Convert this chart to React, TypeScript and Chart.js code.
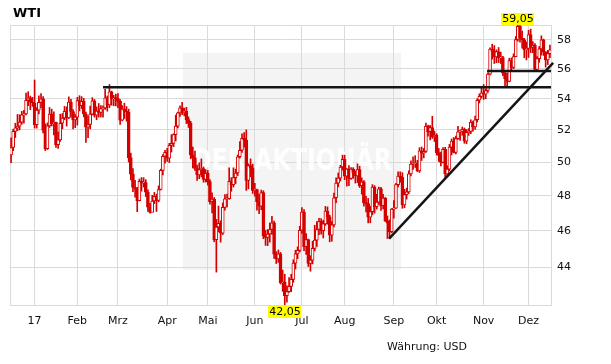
import React, { useEffect, useRef } from 'react';
import { Chart, registerables } from 'chart.js';

Chart.register(...registerables);

const titleText = 'WTI';
const currencyNote = 'Währung: USD';
const watermarkText = 'DER AKTIONÄR';

// month tick labels (first trading day of each month)
const monthLabels = ['17', 'Feb', 'Mrz', 'Apr', 'Mai', 'Jun', 'Jul', 'Aug', 'Sep', 'Okt', 'Nov', 'Dez'];
// trading days: Dec 2016 (partial), Jan..Nov 2017, Dec 2017 (partial)
const tradingDaysPerMonth = [11, 20, 19, 23, 19, 22, 22, 20, 23, 20, 22, 21, 11];

const firstOpen = 50.45;

const closes = [
  // Dec 16
  50.9, 51.9, 52.12, 52.23, 52.49, 52.95, 53.02, 53.9, 54.06, 53.77, 53.72,
  // Jan
  52.33, 53.26, 53.76, 53.99, 51.96, 50.82, 52.25, 53.01, 52.37, 52.48,
  51.08, 51.37, 52.42, 52.75, 53.18, 52.75, 53.78, 53.17, 52.63, 52.81,
  // Feb
  53.88, 53.54, 53.83, 53.01, 52.17, 52.34, 53.0, 53.86, 52.93, 53.2,
  53.11, 53.36, 53.4, 54.06, 53.59, 54.45, 53.99, 54.05, 54.01,
  // Mar
  53.83, 52.61, 53.33, 53.2, 53.14, 50.28, 49.28, 48.49, 48.4, 47.72,
  48.86, 48.75, 48.78, 48.22, 47.34, 47.04, 47.7, 47.97, 47.73, 48.37,
  49.51, 50.35, 50.6,
  // Apr
  50.24, 51.03, 51.15, 51.7, 52.24, 53.08, 53.4, 53.11, 53.18, 52.65,
  52.41, 50.44, 50.27, 49.62, 49.23, 49.56, 49.62, 48.97, 49.33,
  // May
  48.84, 47.66, 47.82, 45.52, 46.22, 46.43, 45.88, 47.33, 47.83, 47.84,
  48.85, 48.66, 49.07, 49.35, 50.33, 50.73, 51.47, 51.36, 48.9, 49.8,
  49.66, 48.32,
  // Jun
  48.36, 47.66, 47.4, 48.19, 45.72, 45.64, 45.83, 46.08, 46.46, 44.73,
  44.46, 44.74, 43.2, 43.23, 42.53, 42.74, 43.01, 43.38, 44.24, 44.74,
  44.93, 46.04,
  // Jul
  47.07, 45.13, 45.52, 44.23, 44.4, 45.04, 45.49, 46.08, 46.54, 46.02,
  46.4, 47.12, 46.79, 45.77, 46.34, 47.89, 48.75, 49.04, 49.71, 50.17,
  // Aug
  49.16, 49.59, 49.03, 49.58, 49.39, 49.17, 49.56, 48.59, 48.82, 47.59,
  47.55, 46.78, 47.09, 48.51, 47.37, 47.64, 48.41, 47.43, 47.87, 46.57,
  46.44, 45.96, 47.23,
  // Sep
  47.29, 48.66, 49.16, 49.09, 47.48, 48.07, 48.23, 49.3, 49.89, 49.89,
  49.91, 49.48, 50.69, 50.55, 50.66, 52.22, 51.88, 52.14, 51.56, 51.67,
  // Oct
  50.58, 50.42, 49.98, 50.79, 49.29, 49.58, 50.92, 51.3, 50.6, 51.45,
  51.87, 51.88, 52.04, 51.29, 51.84, 51.9, 52.47, 52.18, 52.64, 53.9,
  54.15, 54.38,
  // Nov
  54.3, 54.54, 55.64, 57.35, 57.2, 56.81, 57.17, 56.74, 56.76, 55.7,
  55.33, 55.14, 56.55, 56.09, 56.83, 58.02, 58.95, 58.11, 57.99, 57.3,
  57.4,
  // Dec 17
  58.36, 57.47, 57.62, 55.96, 56.69, 57.36, 57.99, 57.14, 56.6, 57.04, 57.3,
];

const highs = [
  51.5, 52.04, 52.42, 52.98, 52.96, 53.18, 53.24, 54.37, 54.46, 54.17, 54.09,
  55.24, 53.42, 54.19, 54.33, 54.14, 52.38, 52.44, 53.43, 53.32, 53.15,
  52.5, 51.87, 53.0, 53.04, 53.5, 53.47, 54.12, 53.96, 53.29, 52.97,
  54.09, 54.2, 54.14, 54.02, 53.13, 52.89, 53.52, 54.07, 53.95, 53.47,
  53.69, 53.55, 53.53, 54.62, 54.18, 54.94, 54.5, 54.22, 54.3,
  54.33, 53.94, 53.55, 53.71, 53.49, 53.32, 50.55, 49.62, 48.91, 48.5,
  48.99, 49.08, 49.07, 48.95, 48.35, 47.57, 48.03, 48.2, 48.1, 48.59,
  49.58, 50.47, 50.72,
  50.85, 51.16, 51.7, 51.76, 52.94, 53.13, 53.53, 53.76, 53.39, 53.44,
  52.82, 52.54, 50.93, 50.68, 49.82, 49.96, 50.2, 49.71, 49.55,
  49.5, 48.96, 48.17, 47.9, 46.65, 47.41, 46.57, 47.59, 48.07, 48.11,
  49.66, 49.07, 49.66, 49.58, 50.44, 51.26, 51.75, 51.83, 52.0, 49.9,
  50.2, 49.88,
  48.73, 48.4, 48.11, 48.34, 48.3, 46.04, 46.08, 46.45, 46.83, 46.55,
  44.86, 44.95, 44.82, 43.87, 43.65, 43.04, 43.47, 43.65, 44.42, 44.94,
  45.12, 46.26,
  47.32, 47.21, 45.85, 45.55, 44.64, 45.43, 46.32, 46.53, 46.71, 46.7,
  46.6, 47.39, 47.36, 46.89, 46.53, 48.16, 49.06, 49.35, 49.81, 50.43,
  50.43, 49.62, 49.79, 49.68, 49.67, 49.48, 49.9, 49.76, 49.06, 48.9,
  47.97, 47.85, 47.39, 48.66, 48.6, 48.09, 48.51, 48.5, 48.09, 47.91,
  46.84, 46.62, 47.27,
  47.73, 48.73, 49.42, 49.42, 49.37, 48.38, 48.46, 49.48, 50.09, 50.33,
  50.4, 50.11, 50.89, 50.93, 50.84, 52.43, 52.3, 52.28, 52.86, 51.92,
  51.76, 50.84, 50.61, 50.89, 50.91, 49.79, 51.09, 51.43, 51.52, 51.61,
  52.23, 51.98, 52.18, 52.12, 52.02, 52.08, 52.64, 52.55, 52.87, 54.0,
  54.32, 54.69,
  54.94, 54.65, 55.72, 57.44, 57.69, 57.59, 57.3, 57.46, 57.13, 56.85,
  55.75, 55.72, 56.72, 56.74, 57.02, 58.23, 59.05, 59.0, 58.62, 58.1,
  57.84,
  58.67, 58.76, 57.87, 57.73, 56.84, 57.53, 58.28, 58.05, 57.18, 57.26, 57.63,
];

const lows = [
  49.97, 50.7, 51.52, 51.95, 52.0, 52.35, 52.43, 52.95, 53.55, 53.29, 53.5,
  52.11, 52.11, 53.02, 53.41, 51.81, 50.71, 50.78, 52.15, 52.24, 51.68,
  50.91, 50.84, 51.28, 52.07, 52.64, 52.24, 52.71, 52.81, 52.06, 52.14,
  52.3, 53.21, 53.36, 52.82, 51.22, 51.51, 52.06, 52.95, 52.81, 52.64,
  52.81, 52.82, 52.8, 53.3, 53.19, 53.42, 53.58, 53.54, 53.53,
  53.41, 52.34, 52.57, 52.72, 52.55, 50.01, 48.93, 48.24, 47.92, 47.09,
  47.71, 48.27, 48.51, 47.96, 47.1, 47.01, 47.24, 47.55, 47.1, 47.65,
  48.34, 49.24, 49.94,
  50.04, 49.97, 50.62, 50.95, 51.31, 52.12, 52.85, 52.96, 52.89, 52.4,
  52.15, 50.21, 49.65, 49.51, 48.91, 49.01, 49.12, 48.8, 48.81,
  48.63, 47.52, 47.02, 45.4, 43.76, 45.95, 45.38, 45.8, 47.17, 47.36,
  47.8, 48.27, 48.52, 48.72, 49.2, 50.24, 50.6, 50.92, 48.32, 48.41,
  49.12, 48.14,
  47.98, 47.18, 46.98, 47.2, 45.57, 45.2, 45.19, 45.38, 45.81, 44.49,
  44.22, 44.28, 43.13, 42.75, 42.05, 42.2, 42.69, 42.73, 43.22, 43.92,
  44.48, 44.84,
  45.86, 44.91, 44.71, 44.06, 43.81, 44.2, 44.9, 45.15, 45.8, 45.82,
  45.61, 46.31, 46.38, 45.4, 45.43, 46.23, 47.6, 48.53, 48.88, 49.52,
  48.95, 48.57, 48.6, 48.96, 49.03, 48.75, 48.78, 48.49, 48.1, 47.4,
  47.08, 46.45, 46.46, 46.91, 47.0, 47.24, 47.5, 47.16, 47.25, 46.53,
  45.58, 45.58, 45.9,
  46.72, 47.27, 48.52, 48.8, 47.28, 47.31, 47.81, 48.13, 49.17, 49.57,
  49.68, 49.43, 49.38, 50.1, 50.26, 50.6, 51.6, 51.37, 51.46, 51.27,
  50.44, 50.05, 49.78, 49.96, 49.1, 49.15, 49.48, 50.44, 50.56, 50.5,
  51.4, 51.34, 51.66, 51.16, 51.13, 51.65, 51.76, 51.92, 52.03, 52.49,
  53.72, 54.04,
  53.95, 54.0, 54.41, 55.59, 56.66, 56.36, 56.41, 56.42, 56.36, 55.53,
  54.83, 54.81, 55.12, 55.85, 56.0, 56.83, 57.9, 57.84, 57.41, 56.75,
  56.6,
  56.77, 57.11, 57.1, 55.82, 55.86, 56.44, 56.93, 56.91, 56.11, 56.28, 56.76,
];

const yTickValues = [44, 46, 48, 50, 52, 54, 56, 58];

// drawn trend lines (x = trading-day index, y = price)
const resistanceLevel = 54.75;
const resistanceFrom = 43;
const supportLevel = 55.85;
const supportFrom = 222.6;
const trendStart = { x: 176.8, y: 45.58 };
const trendEnd = { x: 253.5, y: 56.4 };

const RED = '#d40000';
const GRID = '#dadada';
const FONT = '"DejaVu Sans", Verdana, sans-serif';

export default function App() {
  const canvasRef = useRef<HTMLCanvasElement>(null);

  useEffect(() => {
    const canvas = canvasRef.current;
    if (!canvas) return;
    const n = closes.length;
    const opens = closes.map((c, i) => (i === 0 ? firstOpen : closes[i - 1]));
    const wicks = closes.map((_, i) => ({ x: i, y: [lows[i], highs[i]] }));
    const bodies = closes.map((c, i) => ({ x: i, y: [opens[i], c] }));
    const bodyFill = closes.map((c, i) => (c >= opens[i] ? '#ffffff' : RED));

    const monthStarts: number[] = [];
    let acc = 0;
    tradingDaysPerMonth.forEach((d, k) => {
      if (k > 0) monthStarts.push(acc);
      acc += d;
    });
    const xMin = -0.5;
    const xMax = n - 0.5;
    const yMax = Math.max(...highs);
    const yMin = Math.min(...lows);
    const iMax = highs.indexOf(yMax);
    const iMin = lows.indexOf(yMin);

    const watermarkPlugin = {
      id: 'watermark',
      beforeDraw(chart: any) {
        const { ctx, chartArea } = chart;
        ctx.save();
        ctx.fillStyle = '#f4f4f4';
        ctx.fillRect(chartArea.left + 173, chartArea.top + 28, 218, 217);
        ctx.restore();
      },
      beforeDatasetsDraw(chart: any) {
        const { ctx, chartArea } = chart;
        ctx.save();
        ctx.font = 'bold 31px ' + FONT;
        ctx.fillStyle = 'rgba(255,255,255,0.9)';
        ctx.textAlign = 'center';
        ctx.textBaseline = 'middle';
        ctx.fillText(watermarkText, chartArea.left + 282, chartArea.top + 137, 200);
        ctx.restore();
      },
    };

    const extremesPlugin = {
      id: 'extremes',
      afterDraw(chart: any) {
        const { ctx, chartArea, scales } = chart;
        ctx.save();
        ctx.font = '11px ' + FONT;
        ctx.textAlign = 'center';
        ctx.textBaseline = 'middle';
        const draw = (idx: number, val: number, top: number) => {
          const label = val.toFixed(2).replace('.', ',');
          const w = ctx.measureText(label).width + 2;
          const cx = scales.x.getPixelForValue(idx);
          ctx.fillStyle = '#ffff00';
          ctx.fillRect(Math.round(cx - w / 2), top, Math.round(w), 12);
          ctx.fillStyle = '#000';
          ctx.fillText(label, Math.round(cx), top + 6.5);
        };
        draw(iMax, yMax, chartArea.top - 12);
        draw(iMin, yMin, chartArea.bottom + 1);
        ctx.restore();
      },
    };

    const chart = new Chart(canvas, {
      type: 'bar',
      data: {
        datasets: [
          {
            type: 'line',
            data: [
              { x: resistanceFrom, y: resistanceLevel },
              { x: xMax, y: resistanceLevel },
            ],
            borderColor: '#151515',
            borderWidth: 2.5,
            pointRadius: 0,
            order: 0,
          } as any,
          {
            type: 'line',
            data: [
              { x: supportFrom, y: supportLevel },
              { x: xMax, y: supportLevel },
            ],
            borderColor: '#151515',
            borderWidth: 2.5,
            pointRadius: 0,
            order: 0,
          } as any,
          {
            type: 'line',
            data: [trendStart, trendEnd],
            borderColor: '#151515',
            borderWidth: 2.5,
            pointRadius: 0,
            clip: false,
            order: 0,
          } as any,
          {
            type: 'bar',
            data: bodies,
            backgroundColor: bodyFill,
            borderColor: RED,
            borderWidth: 1,
            borderSkipped: false,
            barThickness: 3,
            minBarLength: 1,
            grouped: false,
            order: 1,
          } as any,
          {
            type: 'bar',
            data: wicks,
            backgroundColor: RED,
            borderWidth: 0,
            barThickness: 1,
            grouped: false,
            order: 2,
          } as any,
        ],
      },
      options: {
        responsive: false,
        animation: false,
        events: [],
        layout: { padding: { left: 10, top: 25, right: 0, bottom: 0 } },
        plugins: {
          legend: { display: false },
          tooltip: { enabled: false },
          title: { display: false },
        },
        scales: {
          x: {
            type: 'linear',
            min: xMin,
            max: xMax,
            bounds: 'data',
            offset: false,
            afterBuildTicks: (scale: any) => {
              scale.ticks = [xMin, ...monthStarts, xMax].map((v) => ({ value: v }));
            },
            afterFit: (scale: any) => {
              scale.height = 59;
            },
            grid: { color: GRID, lineWidth: 1, drawTicks: false, offset: false },
            border: { display: true, color: GRID },
            ticks: {
              autoSkip: false,
              maxRotation: 0,
              padding: 10,
              color: '#111',
              font: { family: FONT, size: 11 },
              callback: (v: any) => {
                const k = monthStarts.indexOf(Number(v));
                return k >= 0 ? monthLabels[k] : '';
              },
            },
          },
          y: {
            type: 'logarithmic',
            position: 'right',
            min: yMin,
            max: yMax,
            bounds: 'data',
            afterBuildTicks: (scale: any) => {
              scale.ticks = [yMin, ...yTickValues, yMax].map((v) => ({ value: v }));
            },
            afterFit: (scale: any) => {
              scale.width = 60;
            },
            grid: { color: GRID, lineWidth: 1, drawTicks: false },
            border: { display: true, color: GRID },
            ticks: {
              autoSkip: false,
              padding: 6,
              color: '#111',
              font: { family: FONT, size: 11 },
              callback: (v: any) => (yTickValues.includes(Number(v)) ? String(v) : ''),
            },
          },
        },
      } as any,
      plugins: [watermarkPlugin, extremesPlugin],
    });

    return () => chart.destroy();
  }, []);

  return (
    <div style={{ position: 'absolute', left: 0, top: 0, width: 611, height: 364, background: '#fff' }}>
      <canvas ref={canvasRef} width={611} height={364} style={{ display: 'block', width: 611, height: 364 }} />
      <div
        style={{
          position: 'absolute',
          left: 13,
          top: 6,
          font: 'bold 13px "DejaVu Sans", Verdana, sans-serif',
          lineHeight: '13px',
          color: '#000',
          whiteSpace: 'nowrap',
        }}
      >
        {titleText}
      </div>
      <div
        style={{
          position: 'absolute',
          left: 387,
          top: 341,
          font: '11px "DejaVu Sans", Verdana, sans-serif',
          lineHeight: '11px',
          color: '#111',
          whiteSpace: 'nowrap',
        }}
      >
        {currencyNote}
      </div>
    </div>
  );
}
